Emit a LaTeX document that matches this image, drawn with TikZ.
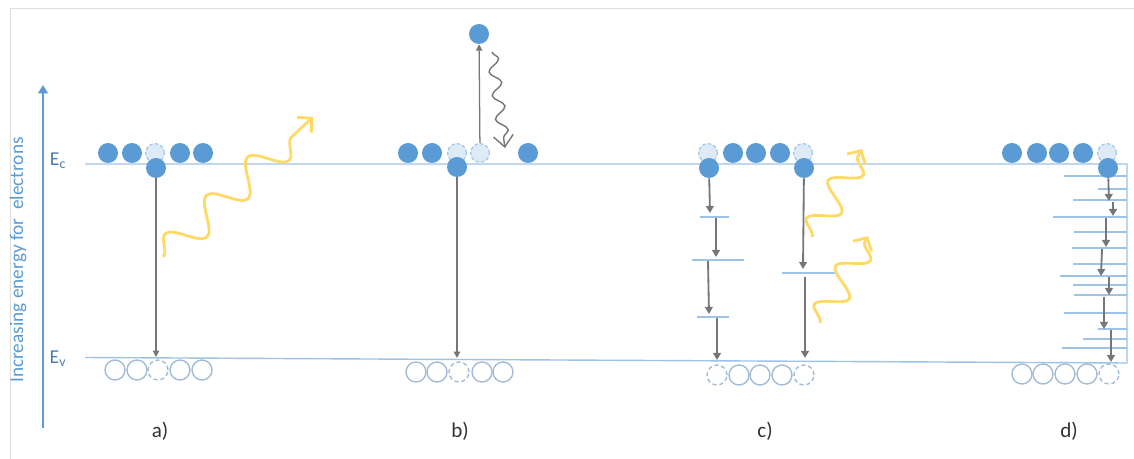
\documentclass[tikz,border=0pt]{standalone}
\usepackage{fontspec}
\setmainfont{Carlito}
\usetikzlibrary{arrows.meta,decorations.pathmorphing}

\definecolor{eblue}{RGB}{91,155,213}
\definecolor{elight}{RGB}{222,235,247}
\definecolor{edash}{RGB}{157,195,230}
\definecolor{bandline}{RGB}{157,195,230}
\definecolor{holeline}{RGB}{163,188,214}
\definecolor{photonyellow}{RGB}{255,217,102}
\definecolor{dropgray}{RGB}{118,118,118}
\definecolor{labelgray}{RGB}{50,50,50}
\definecolor{framegray}{RGB}{222,222,222}

\tikzset{
  electron/.style={circle, fill=eblue, minimum size=0.5cm, inner sep=0pt},
  vacancy/.style={circle, fill=elight, draw=edash, line width=0.8pt, dash pattern=on 2.5pt off 1.5pt, minimum size=0.47cm, inner sep=0pt},
  hole/.style={circle, draw=holeline, line width=1pt, minimum size=0.5cm, inner sep=0pt},
  emptyhole/.style={hole, dash pattern=on 3pt off 2pt},
  band/.style={draw=bandline, line width=1pt},
  drop/.style={draw=dropgray, line width=0.9pt, -{Triangle[length=4.5pt,width=4.5pt]}},
  hop/.style={draw=dropgray, line width=1.3pt, -{Triangle[length=5pt,width=5.5pt]}},
  photon/.style={draw=photonyellow, line width=2pt, -{Straight Barb[length=7pt,width=15pt]},
    decorate, decoration={snake, amplitude=11pt, segment length=40pt, post length=4pt}},
  heatwave/.style={draw=dropgray, line width=1pt, -{Straight Barb[length=8pt,width=14pt]},
    decorate, decoration={snake, amplitude=4pt, segment length=17pt, post length=5pt}},
  panellabel/.style={text=labelgray, font=\fontsize{15pt}{17pt}\selectfont},
  bandlabel/.style={text=eblue!80!black, font=\fontsize{14pt}{16pt}\selectfont}
}

\begin{document}
\begin{tikzpicture}[x=0.025cm, y=-0.025cm]
	\useasboundingbox (0,0) rectangle (1134,459);
	\draw [framegray] (10,459) -- (10,8) -- (1134,8);
	% energy axis
	\coordinate (axis-s) at (43,428);
	\coordinate (axis-n) at (43,85);
	\draw [eblue, line width=1.5pt, -{Triangle[length=6pt,width=7pt]}] (axis-s) -- (axis-n);
	\node [rotate=90, text=eblue, font=\fontsize{13.7pt}{16pt}\selectfont] (axislbl) at (18,260) {Increasing energy for~ electrons};
	\node [bandlabel] (ec) at (58,161) {E\textsubscript{c}};
	\node [bandlabel] (ev) at (58,359) {E\textsubscript{v}};
	% bands
	\draw [band] (85,164) -- (1127,164) -- (1127,363) -- (85,357.5);
	% levels c)
	\draw [band] (700,217) -- (729,217);
	\draw [band] (692,260) -- (744,260);
	\draw [band] (697,317) -- (729,317);
	\draw [band] (782,273) -- (835,273);
	% levels d)
	\draw [band] (1064,176) -- (1127,176);
	\draw [band] (1098,189) -- (1127,189);
	\draw [band] (1073,200) -- (1127,200);
	\draw [band] (1053,217) -- (1127,217);
	\draw [band] (1074,232) -- (1127,232);
	\draw [band] (1072,248) -- (1127,248);
	\draw [band] (1073,264) -- (1127,264);
	\draw [band] (1060,276) -- (1127,276);
	\draw [band] (1073,285) -- (1127,285);
	\draw [band] (1074,295) -- (1127,295);
	\draw [band] (1064,313) -- (1127,313);
	\draw [band] (1098,329) -- (1127,329);
	\draw [band] (1083,339) -- (1127,339);
	\draw [band] (1062,348) -- (1127,348);

	% a)
	\node [electron] (a1) at (108,153) {};
	\node [electron] (a2) at (132,153) {};
	\node [vacancy] (a3) at (155,153) {};
	\node [electron] (a4) at (180,153) {};
	\node [electron] (a5) at (203,153) {};
	\node [electron] (a-low) at (156,168) {};
	\node [hole] (ha1) at (115,370) {};
	\node [hole] (ha2) at (137,370) {};
	\node [emptyhole] (ha3) at (158,370) {};
	\node [hole] (ha4) at (180,370) {};
	\node [hole] (ha5) at (202,370) {};
	\coordinate (a-ev) at (156,357);
	\draw [drop] (a-low) -- (a-ev);
	\coordinate (pa1) at (163,257);
	\coordinate (pa2) at (313,117);
	\draw [photon] (pa1) -- (pa2);
	\node [panellabel] (lbl-a) at (160,431) {a)};

	% b)
	\node [electron] (b1) at (408,153) {};
	\node [electron] (b2) at (432,153) {};
	\node [vacancy] (b3) at (457,153) {};
	\node [vacancy] (b4) at (480,153) {};
	\node [electron] (b5) at (528,153) {};
	\node [electron] (b-low) at (457,167) {};
	\node [electron] (b-top) at (479,34) {};
	\node [hole] (hb1) at (416,372) {};
	\node [hole] (hb2) at (437,372) {};
	\node [emptyhole] (hb3) at (459,372) {};
	\node [hole] (hb4) at (482,372) {};
	\node [hole] (hb5) at (503,372) {};
	\coordinate (b-ev) at (457,358);
	\draw [drop] (b-low) -- (b-ev);
	\draw [drop] (b4) -- (b-top);
	\coordinate (bw1) at (492,52);
	\coordinate (bw2) at (505,148);
	\draw [heatwave] (bw1) -- (bw2);
	\node [panellabel] (lbl-b) at (460,431) {b)};

	% c)
	\node [vacancy] (c1) at (708,153) {};
	\node [electron] (c2) at (733,153) {};
	\node [electron] (c3) at (756,153) {};
	\node [electron] (c4) at (780,153) {};
	\node [vacancy] (c5) at (803,153) {};
	\node [electron] (c-low1) at (709,168) {};
	\node [electron] (c-low2) at (804,168) {};
	\node [emptyhole] (hc1) at (717,375) {};
	\node [hole] (hc2) at (739,375) {};
	\node [hole] (hc3) at (760,375) {};
	\node [hole] (hc4) at (782,375) {};
	\node [emptyhole] (hc5) at (804,375) {};
	\coordinate (c1e) at (710,213);
	\coordinate (c2s) at (716,218);
	\coordinate (c2e) at (716,257);
	\coordinate (c3s) at (708,261);
	\coordinate (c3e) at (709,314);
	\coordinate (c4s) at (717,318);
	\coordinate (c4e) at (717,360);
	\draw [hop] (c-low1) -- (c1e);
	\draw [hop] (c2s) -- (c2e);
	\draw [hop] (c3s) -- (c3e);
	\draw [hop] (c4s) -- (c4e);
	\coordinate (c5e) at (803,269);
	\coordinate (c6s) at (805,277);
	\coordinate (c6e) at (805,358);
	\draw [hop] (c-low2) -- (c5e);
	\draw [hop] (c6s) -- (c6e);
	\coordinate (pc1) at (812,237);
	\coordinate (pc2) at (862,149);
	\coordinate (pc3) at (820,323);
	\coordinate (pc4) at (868,236);
	\draw [photon, decoration={segment length=31pt, amplitude=10pt}] (pc1) -- (pc2);
	\draw [photon, decoration={segment length=31pt, amplitude=10pt}] (pc3) -- (pc4);
	\node [panellabel] (lbl-c) at (765,431) {c)};

	% d)
	\node [electron] (d1) at (1012,153) {};
	\node [electron] (d2) at (1037,153) {};
	\node [electron] (d3) at (1059,153) {};
	\node [electron] (d4) at (1083,153) {};
	\node [vacancy] (d5) at (1107,153) {};
	\node [electron] (d-low) at (1108,168) {};
	\node [hole] (hd1) at (1022,374) {};
	\node [hole] (hd2) at (1043,374) {};
	\node [hole] (hd3) at (1065,374) {};
	\node [hole] (hd4) at (1087,374) {};
	\node [emptyhole] (hd5) at (1109,374) {};
	\coordinate (d1e) at (1109,201);
	\coordinate (d2s) at (1113,202);
	\coordinate (d2e) at (1113,216);
	\coordinate (d3s) at (1106,218);
	\coordinate (d3e) at (1106,247);
	\coordinate (d4s) at (1102,249);
	\coordinate (d4e) at (1101,276);
	\coordinate (d5s) at (1109,277);
	\coordinate (d5e) at (1109,295);
	\coordinate (d6s) at (1104,297);
	\coordinate (d6e) at (1104,329);
	\coordinate (d7s) at (1111,330);
	\coordinate (d7e) at (1111,362);
	\draw [hop] (d-low) -- (d1e);
	\draw [hop] (d2s) -- (d2e);
	\draw [hop] (d3s) -- (d3e);
	\draw [hop] (d4s) -- (d4e);
	\draw [hop] (d5s) -- (d5e);
	\draw [hop] (d6s) -- (d6e);
	\draw [hop] (d7s) -- (d7e);
	\node [panellabel] (lbl-d) at (1069,431) {d)};
\end{tikzpicture}
\end{document}
